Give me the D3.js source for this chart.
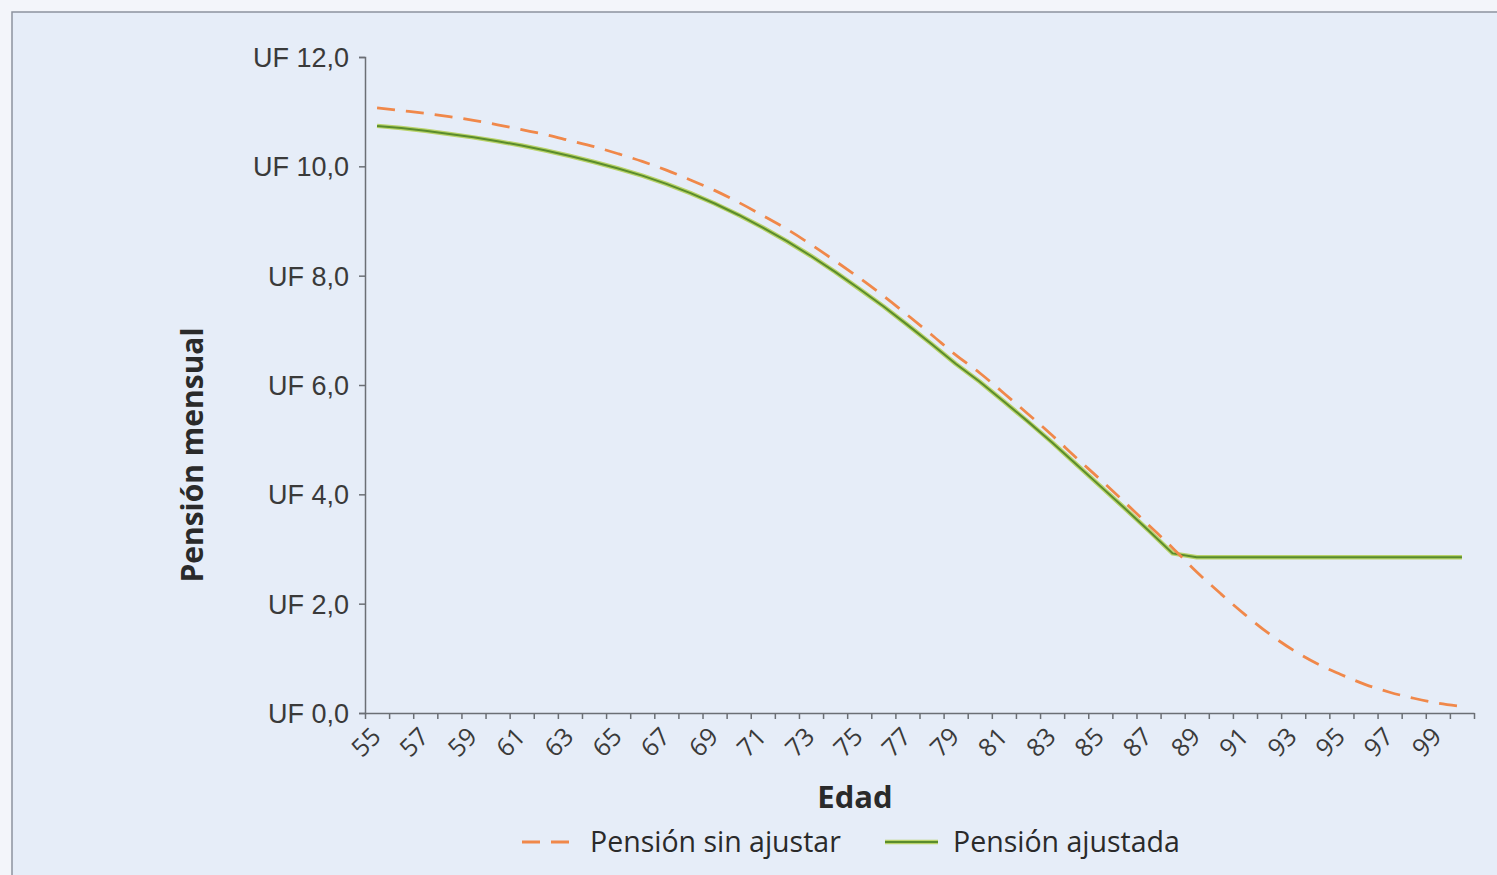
<!DOCTYPE html>
<html>
<head>
<meta charset="utf-8">
<script src="https://cdn.jsdelivr.net/npm/d3@7"></script>
<style>
  body { margin: 0; background: #f3f5fa; }
  svg { display: block; font-family: "Open Sans", sans-serif; }
</style>
</head>
<body>
<svg id="chart"></svg>
<script>
// ages 55..100
const ages = d3.range(55, 101);

const sinAjustar = [11.07, 11.02, 10.97, 10.91, 10.84, 10.76, 10.67, 10.58, 10.47, 10.36,
    10.23, 10.09, 9.93, 9.75, 9.56, 9.34, 9.10, 8.85, 8.57, 8.27,
    7.96, 7.63, 7.28, 6.92, 6.55, 6.22, 5.85, 5.47, 5.08, 4.67,
    4.27, 3.86, 3.44, 3.02, 2.58, 2.18, 1.80, 1.45, 1.15, 0.90,
    0.70, 0.52, 0.38, 0.27, 0.18, 0.12];

const ajustada = [10.74, 10.70, 10.65, 10.59, 10.53, 10.46, 10.38, 10.29, 10.19, 10.08,
    9.96, 9.83, 9.68, 9.51, 9.32, 9.11, 8.88, 8.63, 8.36, 8.07,
    7.76, 7.44, 7.10, 6.75, 6.39, 6.06, 5.70, 5.33, 4.95, 4.55,
    4.15, 3.75, 3.34, 2.92, 2.85, 2.85, 2.85, 2.85, 2.85, 2.85,
    2.85, 2.85, 2.85, 2.85, 2.85, 2.85];

const yTicks = [0, 2, 4, 6, 8, 10, 12];
const xLabels = ages.filter(a => a % 2 === 1);

const width = 1497;
const height = 875;

const svg = d3.select('#chart')
    .attr('width', width)
    .attr('height', height);

// page + frame
svg.append('rect')
    .attr('x', 12).attr('y', 12)
    .attr('width', width).attr('height', height)
    .attr('fill', '#e6edf8')
    .attr('stroke', '#8d939e')
    .attr('stroke-width', 1.5);

const x = d3.scaleLinear().domain([54.5, 100.5]).range([365, 1474]);
const y = d3.scaleLinear().domain([0, 12]).range([713, 57]);

// y axis
const yAxis = svg.append('g')
    .attr('transform', `translate(${x(54.5)},0)`)
    .call(d3.axisLeft(y)
        .tickValues(yTicks)
        .tickSize(6)
        .tickPadding(10)
        .tickFormat(d => 'UF ' + d.toFixed(1).replace('.', ',')));
yAxis.select('.domain').attr('stroke', '#6b6f75').attr('stroke-width', 1.5);
yAxis.selectAll('.tick line').attr('stroke', '#6b6f75').attr('stroke-width', 1.5);
yAxis.selectAll('.tick text')
    .attr('fill', '#3a3a3a')
    .style('font-size', '27px')
    .attr('dy', '0.35em');

// x axis: tick marks between categories
const xAxis = svg.append('g')
    .attr('transform', `translate(0,${y(0)})`)
    .call(d3.axisBottom(x)
        .tickValues(d3.range(54.5, 101, 1))
        .tickSize(6)
        .tickSizeOuter(0)
        .tickFormat(''));
xAxis.select('.domain').attr('stroke', '#6b6f75').attr('stroke-width', 1.5);
xAxis.selectAll('.tick line').attr('stroke', '#6b6f75').attr('stroke-width', 1.5);

// rotated age labels
svg.append('g')
    .selectAll('text')
    .data(xLabels)
    .join('text')
    .attr('transform', d => `translate(${x(d) - 1},${y(0) + 19}) rotate(-45)`)
    .attr('text-anchor', 'end')
    .attr('dy', '0.35em')
    .attr('fill', '#3a3a3a')
    .style('font-size', '25px')
    .text(d => d);

// lines
const line = d3.line()
    .x((d, i) => x(ages[i]))
    .y(d => y(d));

svg.append('path')
    .datum(ajustada)
    .attr('d', line)
    .attr('fill', 'none')
    .attr('stroke', '#b9d36a')
    .attr('stroke-width', 4.5)
    .attr('stroke-linejoin', 'round');
svg.append('path')
    .datum(ajustada)
    .attr('d', line)
    .attr('fill', 'none')
    .attr('stroke', '#5a8c2c')
    .attr('stroke-width', 2)
    .attr('stroke-linejoin', 'round');

svg.append('path')
    .datum(sinAjustar)
    .attr('d', line.curve(d3.curveMonotoneX))
    .attr('fill', 'none')
    .attr('stroke', '#f0884a')
    .attr('stroke-width', 2.8)
    .attr('stroke-dasharray', '18 11');

// axis titles
svg.append('text')
    .attr('transform', `translate(203,${(y(0) + y(12)) / 2 + 70}) rotate(-90)`)
    .attr('text-anchor', 'middle')
    .attr('fill', '#2a2a2a')
    .style('font-size', '30px')
    .style('font-weight', 'bold')
    .text('Pensión mensual');

svg.append('text')
    .attr('x', 855)
    .attr('y', 808)
    .attr('text-anchor', 'middle')
    .attr('fill', '#2a2a2a')
    .style('font-size', '31px')
    .style('font-weight', 'bold')
    .text('Edad');

// legend
const legend = svg.append('g').attr('transform', 'translate(0,842)');
legend.append('line')
    .attr('x1', 522).attr('x2', 574).attr('y1', 0).attr('y2', 0)
    .attr('stroke', '#f0884a').attr('stroke-width', 2.8)
    .attr('stroke-dasharray', '18 11');
legend.append('text')
    .attr('x', 590).attr('y', 0).attr('dy', '0.35em')
    .attr('fill', '#2a2a2a').style('font-size', '28.5px')
    .text('Pensión sin ajustar');
legend.append('line')
    .attr('x1', 885).attr('x2', 938).attr('y1', 0).attr('y2', 0)
    .attr('stroke', '#b9d36a').attr('stroke-width', 4.5);
legend.append('line')
    .attr('x1', 885).attr('x2', 938).attr('y1', 0).attr('y2', 0)
    .attr('stroke', '#5a8c2c').attr('stroke-width', 2);
legend.append('text')
    .attr('x', 953).attr('y', 0).attr('dy', '0.35em')
    .attr('fill', '#2a2a2a').style('font-size', '28.5px')
    .text('Pensión ajustada');
</script>
</body>
</html>
